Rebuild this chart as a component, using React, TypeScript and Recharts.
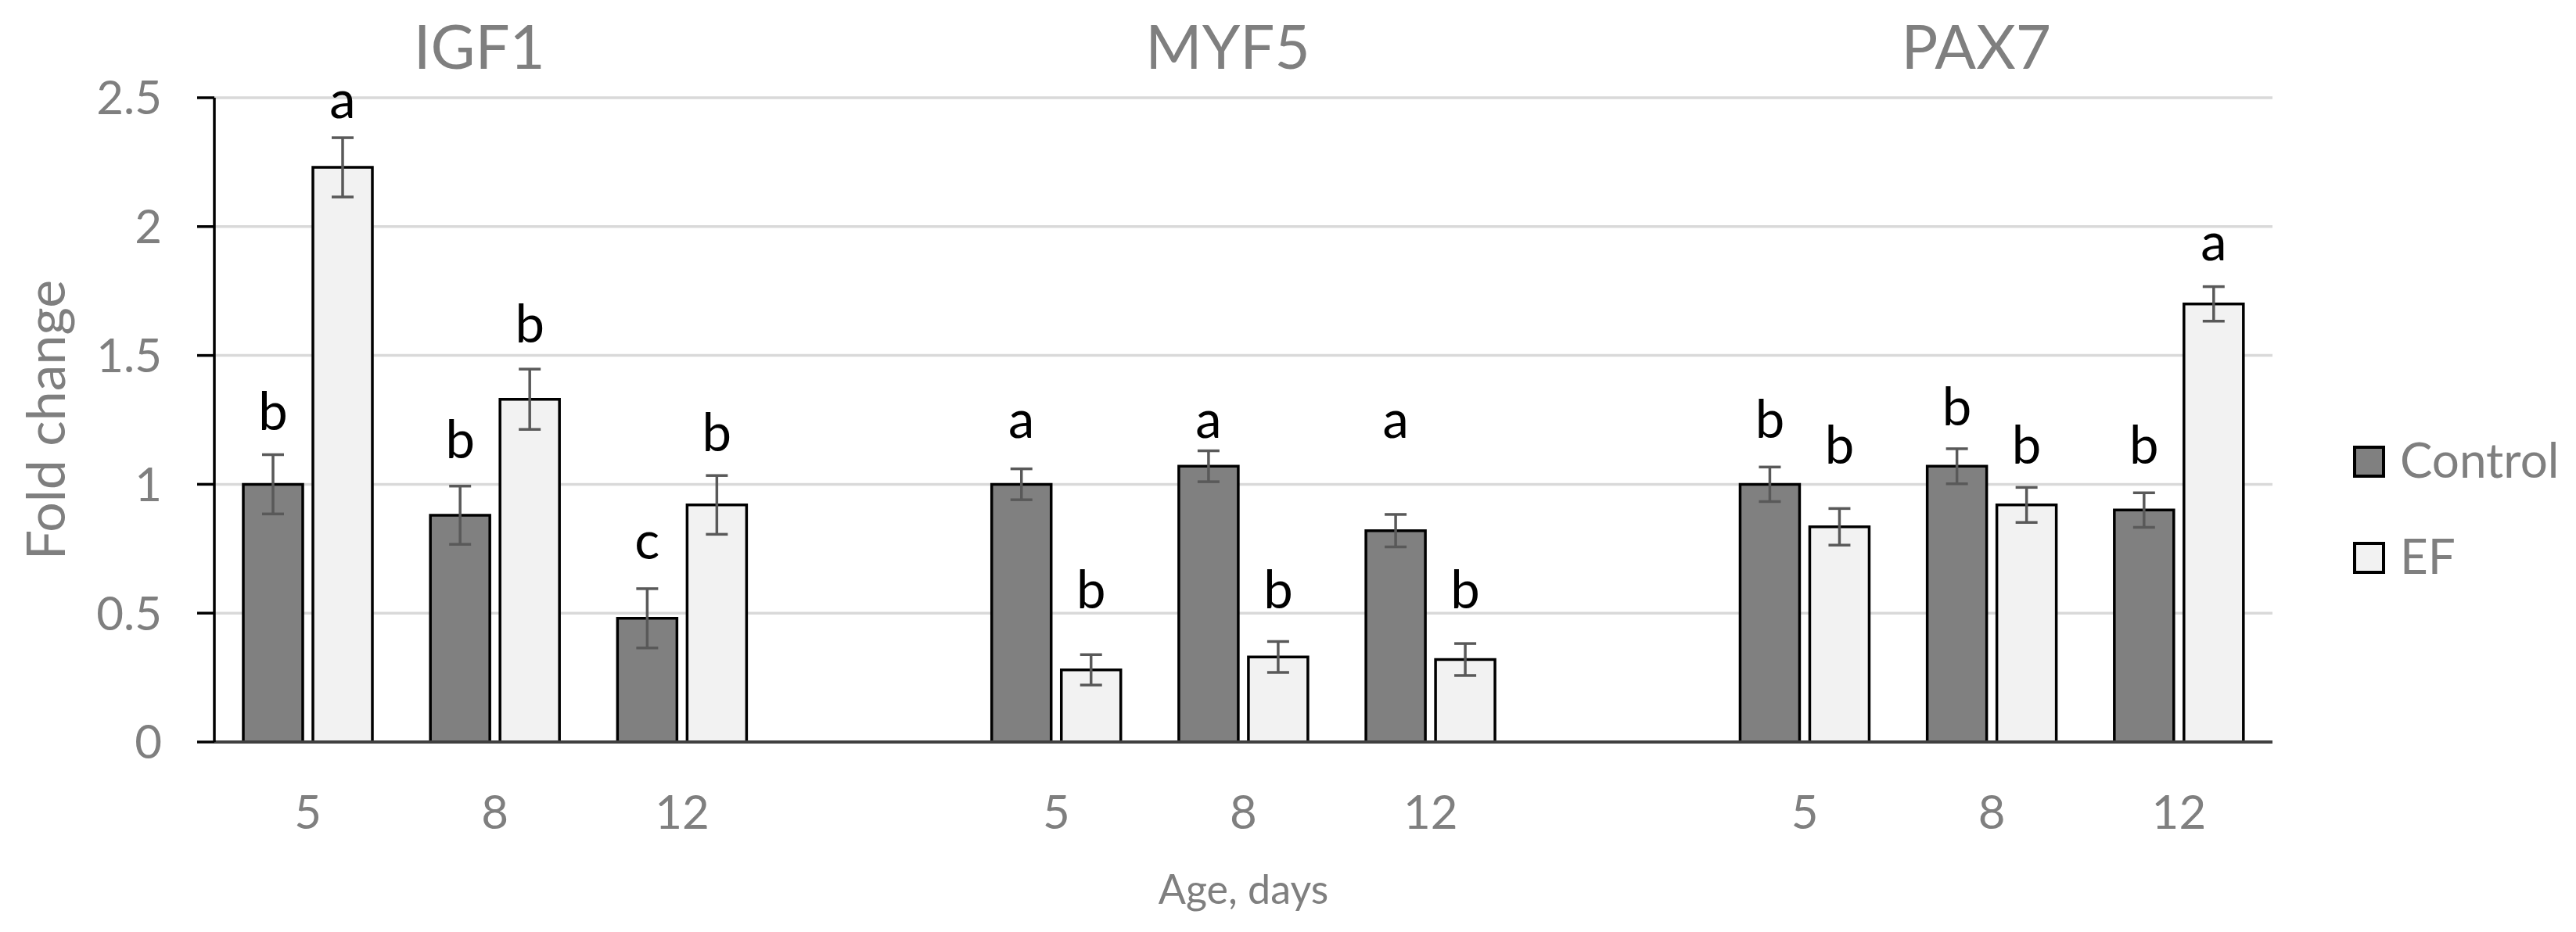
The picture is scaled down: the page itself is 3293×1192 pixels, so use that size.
import React from "react";
import {
  BarChart,
  Bar,
  XAxis,
  YAxis,
  CartesianGrid,
  ErrorBar,
  LabelList,
  Label,
  Legend,
} from "recharts";

const FONT = 'Lato, Carlito, Calibri, "Noto Sans", sans-serif';
const GREY_TEXT = "#7f7f7f";

// values
const genes = ["IGF1", "MYF5", "PAX7"];
const ages = ["5", "8", "12"];
const controlMean = [1.0, 0.88, 0.48, 1.0, 1.07, 0.82, 1.0, 1.07, 0.9];
const controlErr = [0.115, 0.113, 0.115, 0.06, 0.06, 0.063, 0.067, 0.068, 0.067];
const efMean = [2.23, 1.33, 0.92, 0.28, 0.33, 0.32, 0.835, 0.92, 1.7];
const efErr = [0.115, 0.117, 0.114, 0.059, 0.06, 0.062, 0.071, 0.068, 0.067];
const controlLetters = ["b", "b", "c", "a", "a", "a", "b", "b", "b"];
const efLetters = ["a", "b", "b", "b", "b", "b", "b", "b", "a"];
// height (fold change units) of each letter's baseline
const controlLetterAt = [1.21, 1.1, 0.71, 1.18, 1.18, 1.18, 1.18, 1.23, 1.08];
const efLetterAt = [2.42, 1.55, 1.13, 0.52, 0.52, 0.52, 1.08, 1.08, 1.87];
const yTicks = [0, 0.5, 1, 1.5, 2, 2.5];

const seriesNames = ["Control", "EF"];
const seriesFills = ["#808080", "#f2f2f2"];

type Row = {
  age: string;
  gene: string;
  ctl?: number;
  ctlErr?: number;
  ctlLetter?: string;
  ctlAt?: number;
  ef?: number;
  efErr?: number;
  efLetter?: string;
  efAt?: number;
};

const rows: Row[] = [];
genes.forEach((g, gi) => {
  if (gi > 0) rows.push({ age: "", gene: "" });
  ages.forEach((a, ai) => {
    const i = gi * ages.length + ai;
    rows.push({
      age: a,
      gene: ai === 1 ? g : "",
      ctl: controlMean[i],
      ctlErr: controlErr[i],
      ctlLetter: controlLetters[i],
      ctlAt: controlLetterAt[i],
      ef: efMean[i],
      efErr: efErr[i],
      efLetter: efLetters[i],
      efAt: efLetterAt[i],
    });
  });
});

function makeLetter(meanKey: "ctl" | "ef", letterKey: "ctlLetter" | "efLetter", atKey: "ctlAt" | "efAt") {
  return function LetterLabel(props: any) {
    const { viewBox, value } = props;
    if (!value || !viewBox || !value[letterKey]) return null;
    const { x, y, width, height } = viewBox;
    const perUnit = height / value[meanKey];
    const base = y + height - value[atKey] * perUnit;
    return (
      <text x={x + width / 2} y={base} textAnchor="middle" fontSize={67} fontFamily={FONT} fill="#000">
        {value[letterKey]}
      </text>
    );
  };
}

const CtlLetter = makeLetter("ctl", "ctlLetter", "ctlAt");
const EfLetter = makeLetter("ef", "efLetter", "efAt");

const AgeTick = (props: any) => {
  const { x, y, payload } = props;
  return (
    <text x={x} y={y + 111} textAnchor="middle" fontSize={60} fontFamily={FONT} fill={GREY_TEXT}>
      {payload.value}
    </text>
  );
};

const GeneTick = (props: any) => {
  const { x, y, payload } = props;
  if (!payload.value) return null;
  return (
    <text x={x - 20} y={y - 37} textAnchor="middle" fontSize={78} fontFamily={FONT} fill={GREY_TEXT}>
      {payload.value}
    </text>
  );
};

const LegendBox = () => (
  <div style={{ fontFamily: FONT }}>
    {seriesNames.map((name, i) => (
      <div
        key={name}
        style={{ display: "flex", alignItems: "center", height: 41, marginBottom: i === 0 ? 82 : 0 }}
      >
        <div
          style={{
            width: 41,
            height: 41,
            boxSizing: "border-box",
            border: "4px solid #000",
            background: seriesFills[i],
          }}
        />
        <span
          style={{
            marginLeft: 19,
            fontSize: 62,
            lineHeight: "41px",
            color: GREY_TEXT,
            position: "relative",
            top: -3,
            whiteSpace: "nowrap",
          }}
        >
          {name}
        </span>
      </div>
    ))}
  </div>
);

export default function App() {
  return (
    <div style={{ position: "absolute", left: 0, top: 0, background: "#fff" }}>
      <BarChart
        width={3293}
        height={1192}
        data={rows}
        margin={{ top: 0, right: 388, bottom: 0, left: 20 }}
        barCategoryGap={37}
        barGap={13}
      >
        <CartesianGrid vertical={false} stroke="#d9d9d9" strokeWidth={3.5} />
        <XAxis
          dataKey="age"
          height={243}
          interval={0}
          tickLine={false}
          tickSize={0}
          tickMargin={0}
          axisLine={{ stroke: "#404040", strokeWidth: 4 }}
          tick={<AgeTick />}
        >
          <Label
            content={(p: any) => {
              const vb = p.viewBox;
              return (
                <text
                  x={vb.x + vb.width / 2}
                  y={vb.y + 207}
                  textAnchor="middle"
                  fontSize={52}
                  fontFamily={FONT}
                  fill={GREY_TEXT}
                >
                  Age, days
                </text>
              );
            }}
          />
        </XAxis>
        <XAxis
          xAxisId="top"
          dataKey="gene"
          orientation="top"
          height={125}
          interval={0}
          axisLine={false}
          tickLine={false}
          tickSize={0}
          tickMargin={0}
          tick={<GeneTick />}
        />
        <YAxis
          width={254}
          domain={[0, 2.5]}
          ticks={yTicks}
          interval={0}
          tickSize={22}
          tickMargin={45}
          axisLine={{ stroke: "#000", strokeWidth: 3.5 }}
          tickLine={{ stroke: "#000", strokeWidth: 3.5 }}
          tick={{ fill: GREY_TEXT, fontSize: 60, fontFamily: FONT }}
        >
          <Label
            content={(p: any) => {
              const vb = p.viewBox;
              const cy = vb.y + vb.height / 2;
              return (
                <text
                  transform={`translate(${vb.x + 63}, ${cy}) rotate(-90)`}
                  textAnchor="middle"
                  fontSize={68}
                  fontFamily={FONT}
                  fill={GREY_TEXT}
                >
                  Fold change
                </text>
              );
            }}
          />
        </YAxis>
        <Legend
          layout="vertical"
          align="center"
          verticalAlign="middle"
          content={<LegendBox />}
          wrapperStyle={{ left: 3008, top: 570, width: "auto", height: "auto" }}
        />
        <Bar
          dataKey="ctl"
          name={seriesNames[0]}
          fill={seriesFills[0]}
          stroke="#000"
          strokeWidth={3.5}
          isAnimationActive={false}
        >
          <ErrorBar
            dataKey="ctlErr"
            direction="y"
            width={14}
            stroke="#595959"
            strokeWidth={3.5}
            isAnimationActive={false}
          />
          <LabelList dataKey={(r: Row) => (r.ctlLetter ? r : null)} content={CtlLetter} />
        </Bar>
        <Bar
          dataKey="ef"
          name={seriesNames[1]}
          fill={seriesFills[1]}
          stroke="#000"
          strokeWidth={3.5}
          isAnimationActive={false}
        >
          <ErrorBar
            dataKey="efErr"
            direction="y"
            width={14}
            stroke="#595959"
            strokeWidth={3.5}
            isAnimationActive={false}
          />
          <LabelList dataKey={(r: Row) => (r.efLetter ? r : null)} content={EfLetter} />
        </Bar>
      </BarChart>
    </div>
  );
}
